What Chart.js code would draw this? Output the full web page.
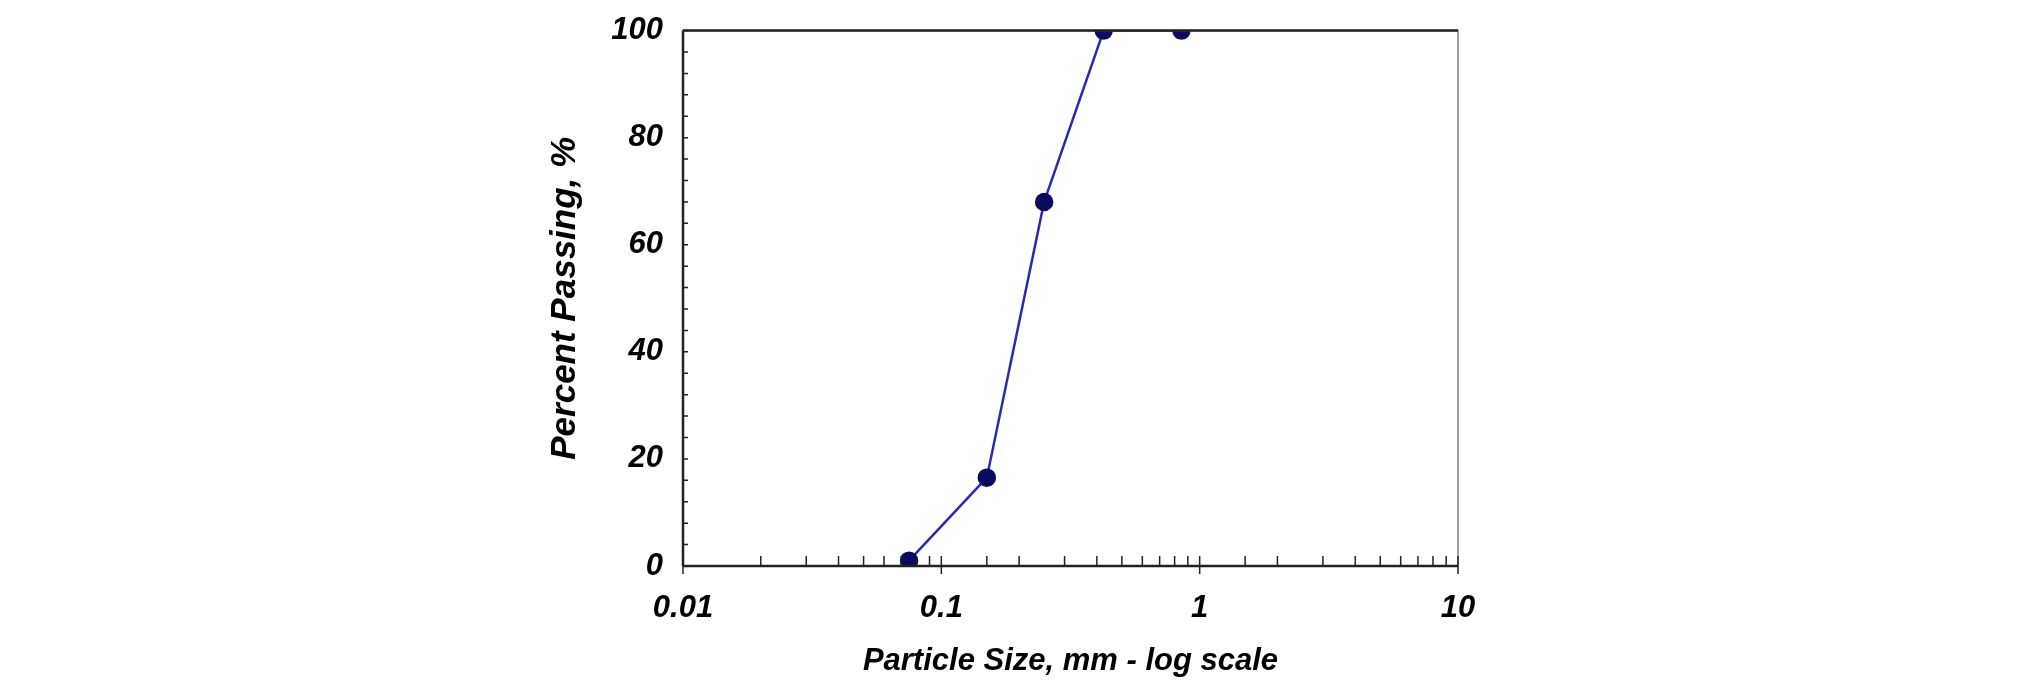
<!DOCTYPE html>
<html>
<head>
<meta charset="utf-8">
<script src="https://cdn.jsdelivr.net/npm/chart.js@4"></script>
<style>
  html, body { margin: 0; padding: 0; background: #fff; }
  #wrap { width: 2020px; height: 684px; }
</style>
</head>
<body>
<div id="wrap"><canvas id="chart"></canvas></div>
<script>
// --- DATA ---
const sizes = [0.075, 0.15, 0.25, 0.425, 0.85];
const passing = [1, 16.5, 68, 100, 100];
const xMajor = [0.01, 0.1, 1, 10];
const yMajor = [0, 20, 40, 60, 80, 100];

const font = { family: 'Liberation Sans, Arial', size: 31, weight: 'bold', style: 'italic' };

// draws the frame and the inward tick marks
const framePlugin = {
    id: 'frame',
    afterDatasetsDraw(chart) {
        const { ctx, chartArea: a, scales } = chart;
        ctx.save();
        ctx.strokeStyle = '#808080';
        ctx.lineWidth = 1.5;
        ctx.strokeRect(a.left, a.top, a.right - a.left, a.bottom - a.top);
        ctx.strokeStyle = '#222';
        ctx.lineWidth = 2.5;
        ctx.beginPath();
        ctx.moveTo(a.left, a.bottom); ctx.lineTo(a.right, a.bottom);
        ctx.moveTo(a.left, a.top); ctx.lineTo(a.right, a.top);
        ctx.moveTo(a.left, a.top); ctx.lineTo(a.left, a.bottom);
        ctx.stroke();
        ctx.lineWidth = 1.5;
        ctx.beginPath();
        scales.x.ticks.forEach(t => {
            const px = scales.x.getPixelForValue(t.value);
            const major = xMajor.includes(t.value);
            ctx.moveTo(px, a.bottom - 10);
            ctx.lineTo(px, a.bottom + (major ? 8 : 0));
        });
        scales.y.ticks.forEach(t => {
            const py = scales.y.getPixelForValue(t.value);
            ctx.moveTo(a.left, py);
            ctx.lineTo(a.left + 5, py);
        });
        ctx.stroke();
        ctx.restore();
    }
};

const ctx = document.getElementById('chart').getContext('2d');
new Chart(ctx, {
    type: 'line',
    data: {
        datasets: [{
            data: sizes.map((s, i) => ({ x: s, y: passing[i] })),
            borderColor: '#2a2ab0',
            borderWidth: 2.5,
            pointBackgroundColor: '#0a0a5e',
            pointBorderColor: '#0a0a5e',
            pointRadius: 8,
            tension: 0
        }]
    },
    options: {
        responsive: true,
        maintainAspectRatio: false,
        animation: false,
        layout: { padding: { left: 540, right: 562, top: 9, bottom: 0 } },
        plugins: { legend: { display: false }, tooltip: { enabled: false } },
        scales: {
            x: {
                type: 'logarithmic',
                min: 0.01, max: 10,
                grid: { display: false },
                border: { display: false },
                ticks: {
                    autoSkip: false, maxRotation: 0, color: '#000', font, padding: 16,
                    callback: v => xMajor.includes(v) ? String(v) : ''
                },
                title: { display: true, text: 'Particle Size, mm - log scale', color: '#000', font: { ...font, size: 31 }, padding: { top: 6 } },
                afterFit: s => { s.height = 118; }
            },
            y: {
                min: 0, max: 100,
                grid: { display: false },
                border: { display: false },
                ticks: {
                    stepSize: 4, autoSkip: false, color: '#000', font, padding: 12,
                    callback: v => yMajor.includes(v) ? String(v) : ''
                },
                title: { display: true, text: 'Percent Passing, %', color: '#000', font: { ...font, size: 35 } },
                afterFit: s => { s.width = 143; }
            }
        }
    },
    plugins: [framePlugin]
});
</script>
</body>
</html>
